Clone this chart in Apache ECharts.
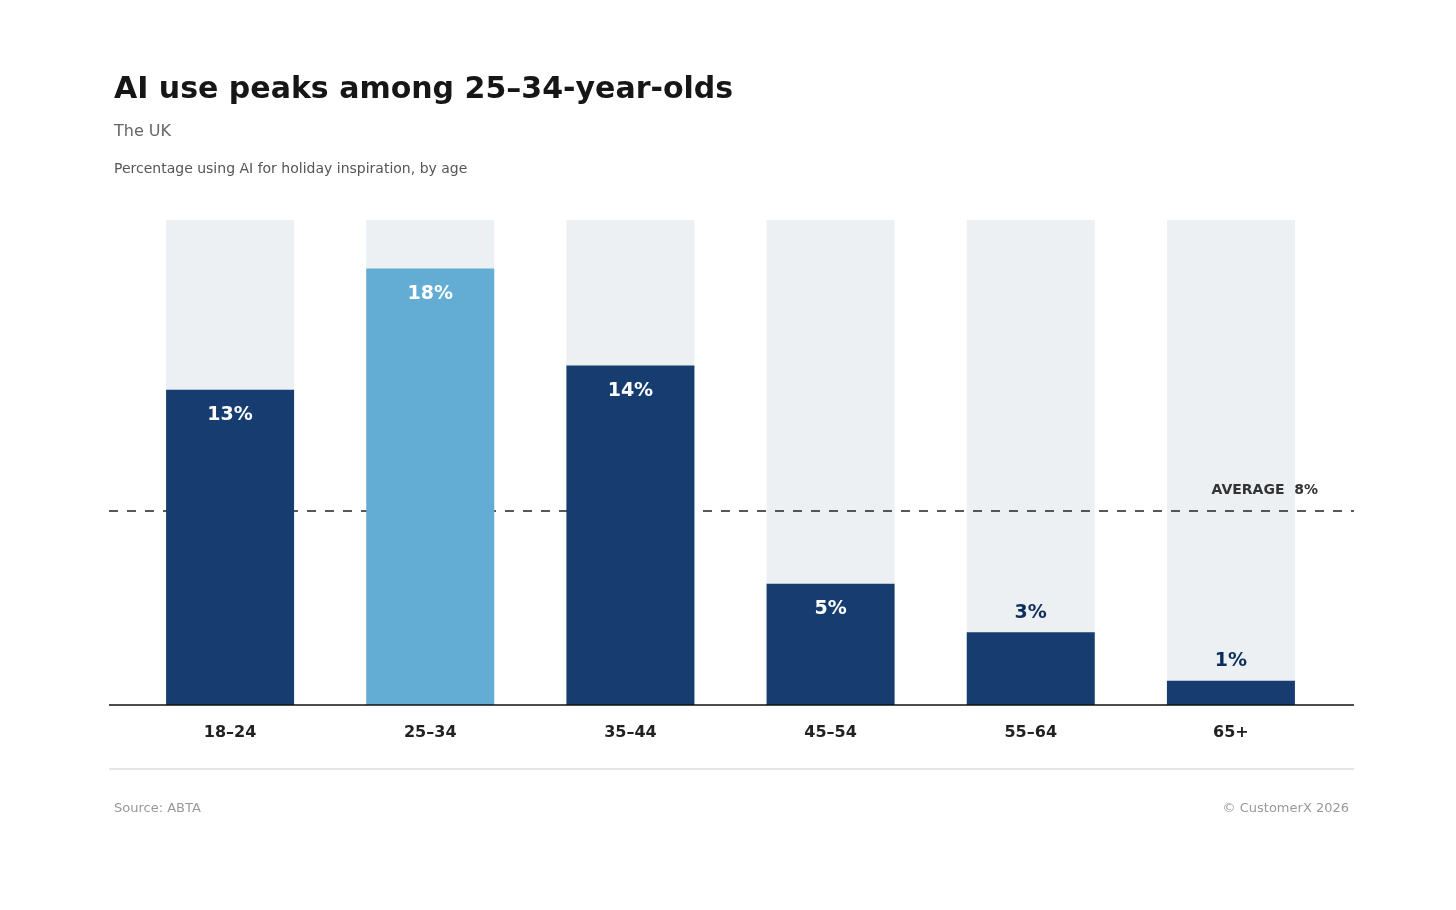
<!DOCTYPE html>
<html>
<head>
<meta charset="utf-8">
<script src="https://cdn.jsdelivr.net/npm/echarts@6/dist/echarts.min.js"></script>
<style>
  html, body { margin: 0; padding: 0; background: #fff; }
  #chart { width: 1456px; height: 910px; }
</style>
</head>
<body>
<div id="chart"></div>
<script>
// data
const ageGroups = ['18–24', '25–34', '35–44', '45–54', '55–64', '65+'];
const aiUse = [13, 18, 14, 5, 3, 1];
const highlight = '25–34';
const averageValue = 8;
const axisMax = 20;

const chart = echarts.init(document.getElementById('chart'));
const font = 'DejaVu Sans, sans-serif';

// small bars get their label above instead of inside
const barData = aiUse.map((v, i) => ({
    value: v,
    itemStyle: { color: ageGroups[i] === highlight ? '#63acd4' : '#173d70' },
    label: v < 5
        ? { position: 'top', color: '#0f2d5c', distance: 10 }
        : { position: 'insideTop', color: '#fff', distance: 16 }
}));

const option = {
    backgroundColor: '#fff',
    textStyle: { fontFamily: font },
    title: [
        { text: 'AI use peaks among 25–34-year-olds', left: 109, top: 70,
          textStyle: { fontSize: 30, fontWeight: 'bold', color: '#161616', fontFamily: font } },
        { text: 'The UK', left: 109, top: 119,
          textStyle: { fontSize: 16, fontWeight: 'normal', color: '#666', fontFamily: font } },
        { text: 'Percentage using AI for holiday inspiration, by age', left: 109, top: 157,
          textStyle: { fontSize: 14, fontWeight: 'normal', color: '#555', fontFamily: font } },
        { text: 'Source: ABTA', left: 109, top: 797,
          textStyle: { fontSize: 13, fontWeight: 'normal', color: '#999', fontFamily: font } },
        { text: '© CustomerX 2026', right: 102, top: 797,
          textStyle: { fontSize: 13, fontWeight: 'normal', color: '#999', fontFamily: font } }
    ],
    grid: { left: 130, right: 125, top: 220, bottom: 205 },
    xAxis: {
        type: 'category',
        data: ageGroups,
        axisLine: { show: false },
        axisTick: { show: false },
        axisLabel: { fontSize: 16, fontWeight: 'bold', color: '#222', margin: 20 }
    },
    yAxis: { type: 'value', min: 0, max: axisMax, show: false },
    series: [
        {
            type: 'bar',
            data: aiUse.map(() => axisMax),
            barWidth: 128,
            barGap: '-100%',
            itemStyle: { color: '#edf0f3' },
            silent: true,
            z: 1
        },
        {
            type: 'bar',
            data: barData,
            barWidth: 128,
            z: 3,
            label: { show: true, formatter: '{c}%', fontSize: 19, fontWeight: 'bold' }
        }
    ]
};
chart.setOption(option);

// full-width baseline, average line and footer rule
const yBase = chart.convertToPixel({ yAxisIndex: 0 }, 0);
const yAvg = chart.convertToPixel({ yAxisIndex: 0 }, averageValue);
chart.setOption({
    graphic: [
        { type: 'line', z: 2, shape: { x1: 109, y1: yAvg, x2: 1354, y2: yAvg },
          style: { stroke: '#222', lineWidth: 1.6, lineDash: [9, 9] } },
        { type: 'line', z: 10, shape: { x1: 109, y1: yBase, x2: 1354, y2: yBase },
          style: { stroke: '#111', lineWidth: 1.5 } },
        { type: 'line', shape: { x1: 109, y1: 769, x2: 1354, y2: 769 },
          style: { stroke: '#dcdcdc', lineWidth: 1.5 } },
        { type: 'text', z: 10, right: 138, top: yAvg - 28,
          style: { text: 'AVERAGE  ' + averageValue + '%', fill: '#333', font: 'bold 14px ' + font } }
    ]
});
</script>
</body>
</html>
